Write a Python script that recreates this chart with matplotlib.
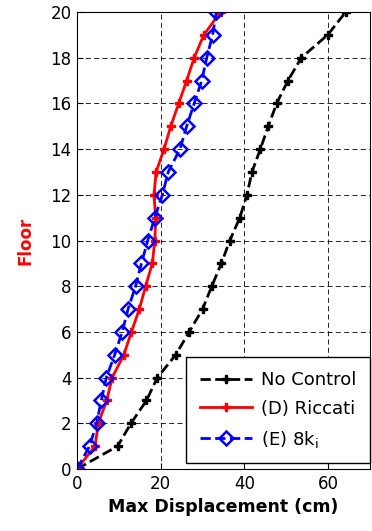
import matplotlib.pyplot as plt

plt.rcParams['font.family'] = ['DejaVu Sans']

floors = list(range(21))
no_control = [0, 9.7, 12.9, 16.6, 19.2, 23.6, 26.8, 30.0, 32.2, 34.5, 36.5,
              38.9, 40.6, 41.8, 43.8, 45.7, 47.7, 50.4, 53.6, 59.9, 64.2]
riccati = [0, 4.3, 5.1, 7.1, 8.4, 11.2, 13.0, 14.9, 16.4, 18.0, 18.6,
           18.8, 18.4, 18.9, 20.8, 22.4, 24.3, 26.2, 28.0, 30.3, 34.3]
e_8ki = [0, 3.0, 4.7, 5.8, 7.0, 9.0, 10.8, 12.2, 14.0, 15.4, 16.9,
         18.6, 20.4, 21.8, 24.6, 26.2, 28.0, 29.8, 31.0, 32.4, 33.3]
labels = ['No Control', '(D) Riccati', '(E) 8k$_\\mathregular{i}$']

fig = plt.figure(figsize=(3.72, 5.31), dpi=100)
# axes box: left 77px, right 370px, top 12px, bottom 469px
ax = fig.add_axes([77 / 372, (531 - 469) / 531, (370 - 77) / 372, (469 - 12) / 531])

ax.plot(no_control, floors, '--', color='black', lw=2, marker='P', ms=6, label=labels[0])
ax.plot(riccati, floors, '-', color='red', lw=2, marker='P', ms=6, label=labels[1])
ax.plot(e_8ki, floors, '--', color='blue', lw=2, marker='D', ms=7, mfc='none', mew=1.8, label=labels[2])

ax.set_xlim(0, 70)
ax.set_ylim(0, 20)
ax.set_xticks([0, 20, 40, 60])
ax.set_yticks(range(0, 21, 2))
ax.tick_params(direction='in', labelsize=12, length=4, pad=4)
ax.grid(True, color='black', linestyle=(0, (6, 4)), linewidth=0.6)
ax.set_axisbelow(True)

ax.set_xlabel('Max Displacement (cm)', fontsize=12.5, fontweight='bold', labelpad=4)
ax.set_ylabel('Floor', fontsize=12, fontweight='bold', color='red', labelpad=11)

leg = ax.legend(loc='lower right', bbox_to_anchor=(1.0, 0.013), fontsize=13, fancybox=False,
                framealpha=1, edgecolor='black', handlelength=2.9, handletextpad=0.5,
                labelspacing=0.6, borderaxespad=0.0, borderpad=0.75)
leg.get_frame().set_linewidth(1)

fig.savefig('out.png', dpi=100)
